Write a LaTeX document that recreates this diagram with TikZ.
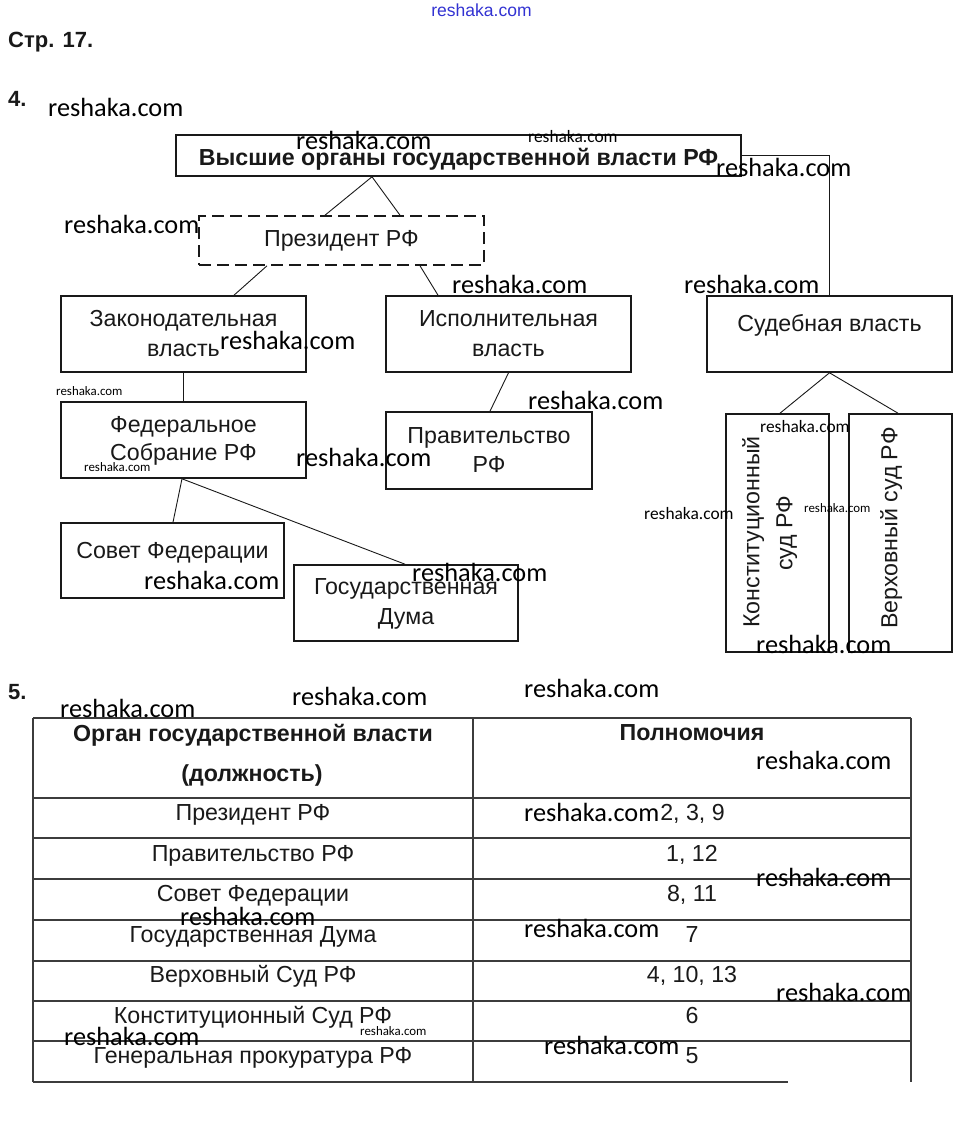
\documentclass[tikz,border=0pt]{standalone}
\usepackage{fontspec}
\setmainfont{Liberation Sans}
\newfontfamily\wmfont{Carlito}
\usetikzlibrary{calc}
\definecolor{ink}{RGB}{25,25,25}
\definecolor{wmblue}{RGB}{50,50,210}
\begin{document}
\begin{tikzpicture}[x=1pt,y=-1pt,
  box/.style={draw=ink, line width=1.6pt, inner sep=0pt},
  dbox/.style={draw=ink, line width=1.6pt, inner sep=0pt, dash pattern=on 12pt off 6pt},
  conn/.style={draw=ink, line width=0.9pt},
  tline/.style={draw=ink!85, line width=1.1pt},
  ttext/.style={inner sep=0pt, text=ink, font=\fontsize{23.2}{27}\selectfont, text height=16.6pt, text depth=0pt},
  btext/.style={ttext, font=\fontsize{23.2}{27}\selectfont\bfseries},
  numtext/.style={inner sep=0pt, anchor=west, text=ink, font=\fontsize{22}{26}\selectfont\bfseries, text height=16pt, text depth=0pt},
  wmL/.style={inner sep=0pt, anchor=west, text=black, font=\wmfont\fontsize{26.3}{30}\selectfont, text height=18pt, text depth=0pt},
  wmM/.style={inner sep=0pt, anchor=west, text=black, font=\wmfont\fontsize{17.4}{20}\selectfont, text height=12pt, text depth=0pt},
  wmS/.style={inner sep=0pt, anchor=west, text=black, font=\wmfont\fontsize{12.9}{15}\selectfont, text height=9pt, text depth=0pt}
]
\useasboundingbox (0,0) rectangle (961,1126);

% header texts
\node[inner sep=0pt, text=wmblue, font=\fontsize{17.5}{20}\selectfont, text height=12pt, text depth=0pt] (wmtop) at (481.5,11) {reshaka.com};
\node[numtext] (page) at (8,40) {Стр. 17.};
\node[numtext] (n4) at (8,99) {4.};
\node[numtext] (n5) at (8,691) {5.};

% boxes
\node[box, minimum width=565pt, minimum height=41pt] (top) at (458.5,155.5) {};
\node[dbox, minimum width=285pt, minimum height=49pt] (pres) at (341.5,240.5) {};
\node[box, minimum width=245pt, minimum height=76pt] (zak) at (183.5,334) {};
\node[box, minimum width=245pt, minimum height=76pt] (isp) at (508.5,334) {};
\node[box, minimum width=245pt, minimum height=76pt] (sud) at (829.5,334) {};
\node[box, minimum width=245pt, minimum height=76pt] (fed) at (183.5,440) {};
\node[box, minimum width=206pt, minimum height=77pt] (prav) at (489,450.5) {};
\node[box, minimum width=223pt, minimum height=75pt] (sov) at (172.5,560.5) {};
\node[box, minimum width=224pt, minimum height=76pt] (duma) at (406,603) {};
\node[box, minimum width=103pt, minimum height=238pt] (konst) at (777.5,533) {};
\node[box, minimum width=103pt, minimum height=238pt] (verh) at (900.5,533) {};

% box texts
\node[btext] (ttop) at (458.5,157) {Высшие органы государственной власти РФ};
\node[ttext] (tpres) at (341.5,238) {Президент РФ};
\node[ttext] (tzak1) at (183.5,318) {Законодательная};
\node[ttext] (tzak2) at (183.5,348) {власть};
\node[ttext] (tisp1) at (508.5,318) {Исполнительная};
\node[ttext] (tisp2) at (508.5,348) {власть};
\node[ttext] (tsud) at (829.5,323) {Судебная власть};
\node[ttext] (tfed1) at (183.5,424) {Федеральное};
\node[ttext] (tfed2) at (183.5,452) {Собрание РФ};
\node[ttext] (tprav1) at (489,435) {Правительство};
\node[ttext] (tprav2) at (489,464) {РФ};
\node[ttext] (tsov) at (172.5,550) {Совет Федерации};
\node[ttext] (tduma1) at (406,586) {Государственная};
\node[ttext] (tduma2) at (406,616) {Дума};
\node[ttext, rotate=90] (tkon1) at (751,532) {Конституционный};
\node[ttext, rotate=90] (tkon2) at (784,533) {суд РФ};
\node[ttext, rotate=90] (tverh) at (889,528) {Верховный суд РФ};

% connectors
\draw[conn] ([xshift=-86.5pt]top.south) -- ([xshift=-16.5pt]pres.north);
\draw[conn] ([xshift=-86.5pt]top.south) -- ([xshift=58.5pt]pres.north);
\draw[conn] ([xshift=-74.5pt]pres.south) -- ([xshift=50.5pt]zak.north);
\draw[conn] ([xshift=78.5pt]pres.south) -- ([xshift=-70.5pt]isp.north);
\draw[conn] (top.east) -| (sud.north);
\draw[conn] (zak.south) -- (fed.north);
\draw[conn] (isp.south) -- ([xshift=1pt]prav.north);
\draw[conn] ([xshift=-1.5pt]fed.south) -- ([xshift=0.5pt]sov.north);
\draw[conn] ([xshift=-1.5pt]fed.south) -- ([xshift=-1pt]duma.north);
\draw[conn] (sud.south) -- ([xshift=2.5pt]konst.north);
\draw[conn] (sud.south) -- ([xshift=-2.5pt]verh.north);

% table
\draw[tline] (33,718) -- (911,718);
\foreach \yy in {798,838,879,920,961,1001,1041} {\draw[tline] (33,\yy) -- (911,\yy);}
\draw[tline] (33,718) -- (33,1082);
\draw[tline] (473,718) -- (473,1082);
\draw[tline] (911,718) -- (911,1082);
\draw[tline] (33,1082) -- (788,1082);

\node[btext] (h1a) at (253,733) {Орган государственной власти};
\node[btext] (h1b) at (252,773) {(должность)};
\node[btext] (h2) at (692,732) {Полномочия};

\node[ttext] (r1a) at (253,812) {Президент РФ};
\node[ttext] (r2a) at (253,853) {Правительство РФ};
\node[ttext] (r3a) at (253,893) {Совет Федерации};
\node[ttext] (r4a) at (253,934) {Государственная Дума};
\node[ttext] (r5a) at (253,974) {Верховный Суд РФ};
\node[ttext] (r6a) at (253,1015) {Конституционный Суд РФ};
\node[ttext] (r7a) at (253,1055) {Генеральная прокуратура РФ};

\node[ttext] (r1b) at (692.5,812) {2, 3, 9};
\node[ttext] (r2b) at (692,853) {1, 12};
\node[ttext] (r3b) at (692,893) {8, 11};
\node[ttext] (r4b) at (692,934) {7};
\node[ttext] (r5b) at (692,974) {4, 10, 13};
\node[ttext] (r6b) at (692,1015) {6};
\node[ttext] (r7b) at (692,1055) {5};

% watermarks
\node[wmL] (w1) at (48,108) {reshaka.com};
\node[wmL] (w2) at (296,141) {reshaka.com};
\node[wmM] (w3) at (528,137) {reshaka.com};
\node[wmL] (w4) at (716,168) {reshaka.com};
\node[wmL] (w5) at (64,224) {reshaka.com};
\node[wmL] (w6) at (452,284) {reshaka.com};
\node[wmL] (w7) at (684,284) {reshaka.com};
\node[wmL] (w8) at (220,340) {reshaka.com};
\node[wmS] (w9) at (56,391) {reshaka.com};
\node[wmL] (w10) at (528,400) {reshaka.com};
\node[wmM] (w11) at (760,426) {reshaka.com};
\node[wmL] (w12) at (296,457) {reshaka.com};
\node[wmS] (w13) at (84,467) {reshaka.com};
\node[wmM] (w14) at (644,513) {reshaka.com};
\node[wmS] (w15) at (804,508) {reshaka.com};
\node[wmL] (w16) at (144,580) {reshaka.com};
\node[wmL] (w17) at (412,572) {reshaka.com};
\node[wmL] (w18) at (756,644) {reshaka.com};
\node[wmL] (w19) at (292,696) {reshaka.com};
\node[wmL] (w20) at (524,688) {reshaka.com};
\node[wmL] (w21) at (60,708) {reshaka.com};
\node[wmL] (w22) at (756,760) {reshaka.com};
\node[wmL] (w23) at (524,812) {reshaka.com};
\node[wmL] (w24) at (756,877) {reshaka.com};
\node[wmL] (w25) at (180,916) {reshaka.com};
\node[wmL] (w26) at (524,928) {reshaka.com};
\node[wmL] (w27) at (776,992) {reshaka.com};
\node[wmL] (w28) at (64,1036) {reshaka.com};
\node[wmS] (w29) at (360,1031) {reshaka.com};
\node[wmL] (w30) at (544,1045) {reshaka.com};
\end{tikzpicture}
\end{document}
